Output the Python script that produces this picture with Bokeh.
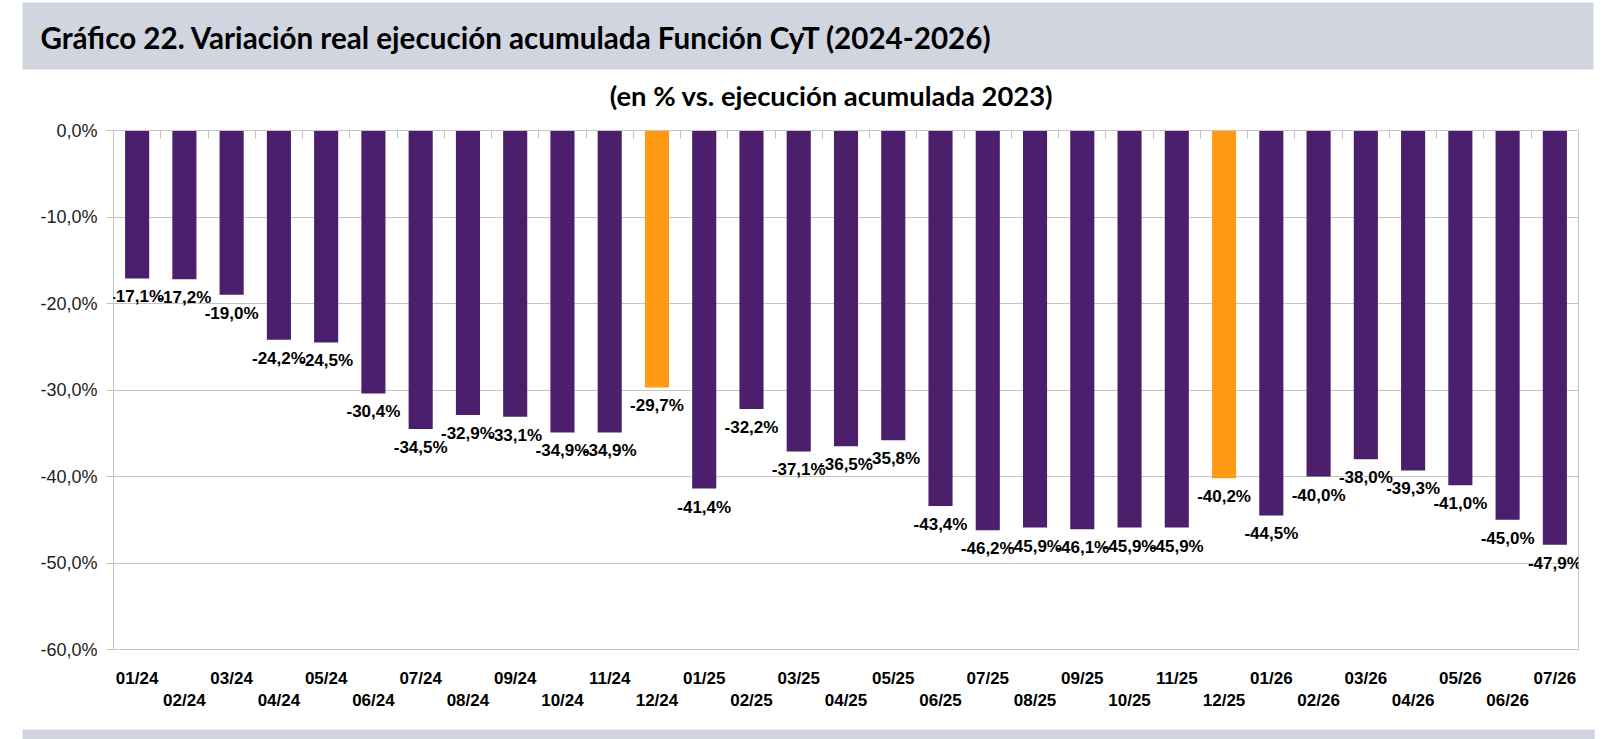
from bokeh.plotting import figure
from bokeh.models import (ColumnDataSource, FixedTicker, LinearAxis, LabelSet, Range1d, Title)
from bokeh.embed import file_html
from bokeh.resources import INLINE
from bokeh.core.properties import value

title_text = "Gráfico 22. Variación real ejecución acumulada Función CyT (2024-2026)"
subtitle_text = "(en % vs. ejecución acumulada 2023)"

categories = ["01/24", "02/24", "03/24", "04/24", "05/24", "06/24", "07/24", "08/24",
              "09/24", "10/24", "11/24", "12/24", "01/25", "02/25", "03/25", "04/25",
              "05/25", "06/25", "07/25", "08/25", "09/25", "10/25", "11/25", "12/25",
              "01/26", "02/26", "03/26", "04/26", "05/26", "06/26", "07/26"]
values = [-17.1, -17.2, -19.0, -24.2, -24.5, -30.4, -34.5, -32.9,
          -33.1, -34.9, -34.9, -29.7, -41.4, -32.2, -37.1, -36.5,
          -35.8, -43.4, -46.2, -45.9, -46.1, -45.9, -45.9, -40.2,
          -44.5, -40.0, -38.0, -39.3, -41.0, -45.0, -47.9]
highlight = ["12/24", "12/25"]
y_ticks = [0, -10, -20, -30, -40, -50, -60]
y_tick_labels = ["0,0%", "-10,0%", "-20,0%", "-30,0%", "-40,0%", "-50,0%", "-60,0%"]

PURPLE = "#4B1F6B"
ORANGE = "#FF9A12"
HEADER_BG = "#D0D5E0"
GRID = "#C4C4C4"
TITLE_FONT = "Lato"
AX_FONT = "Liberation Sans"

W = 1612
H = 739

n = len(categories)
idx = list(range(n))
colors = [ORANGE if c in highlight else PURPLE for c in categories]
labels = [f"{v:.1f}".replace(".", ",") + "%" for v in values]
src = ColumnDataSource(dict(x=idx, top=values, color=colors, label=labels))

p = figure(width=W, height=H, x_range=Range1d(-0.5, n - 0.5), y_range=Range1d(-60, 0),
           toolbar_location=None, output_backend="svg", x_axis_location=None,
           min_border_left=113, min_border_right=34, min_border_top=120, min_border_bottom=60)
p.background_fill_color = "white"
p.border_fill_color = "white"
p.outline_line_color = GRID

p.vbar(x="x", top="top", bottom=0, width=0.51, fill_color="color", line_color=None, source=src)

p.add_layout(LabelSet(x="x", y="top", text="label", source=src, text_align="center",
                      text_baseline="top", y_offset=-9, text_font=value(AX_FONT),
                      text_font_style="bold", text_font_size="17px", text_color="#000000"))

# y axis
ya = p.yaxis[0]
ya.ticker = FixedTicker(ticks=y_ticks)
ya.major_label_overrides = {t: l for t, l in zip(y_ticks, y_tick_labels)}
ya.major_label_text_font = AX_FONT
ya.major_label_text_font_size = "18px"
ya.major_label_text_color = "#222222"
ya.major_label_standoff = 9
ya.major_tick_out = 7
ya.major_tick_in = 0
ya.minor_tick_line_color = None
ya.major_tick_line_color = GRID
ya.axis_line_color = GRID

p.xgrid.visible = False
p.ygrid.grid_line_color = GRID
p.ygrid.ticker = FixedTicker(ticks=y_ticks)

# top axis with category-boundary ticks
xa_top = LinearAxis(ticker=FixedTicker(ticks=[i - 0.5 for i in range(n + 1)]),
                    major_tick_in=8, major_tick_out=0, major_label_text_font_size="0px",
                    major_label_text_alpha=0, axis_line_color=GRID, major_tick_line_color=GRID,
                    minor_tick_line_color=None, major_label_standoff=0)
p.add_layout(xa_top, "above")

# subtitle and header band (titles live outside the frame)
p.add_layout(Title(text=subtitle_text, align="center", standoff=15,
                   text_font=TITLE_FONT, text_font_style="bold", text_font_size="27.4px",
                   text_color="#000000", padding=dict(left=0, right=29, top=0, bottom=11)), "above")
p.add_layout(Title(text=title_text, align="left", offset=-91, standoff=0,
                   text_font=TITLE_FONT, text_font_style="bold", text_font_size="29.6px",
                   text_color="#000000", background_fill_color=HEADER_BG,
                   padding=dict(left=18, right=601, top=17, bottom=15)), "above")

# two staggered rows of category labels
for row, standoff in ((0, 19), (1, 0)):
    ticks = idx[row::2]
    ax = LinearAxis(ticker=FixedTicker(ticks=ticks),
                    major_label_overrides={i: categories[i] for i in ticks},
                    axis_line_color=None, major_tick_line_color=None, minor_tick_line_color=None,
                    major_tick_in=0, major_tick_out=0, major_label_standoff=standoff,
                    major_label_text_font=AX_FONT, major_label_text_font_style="bold",
                    major_label_text_font_size="17px", major_label_text_color="#000000")
    p.add_layout(ax, "below")

# spacer and bottom band
p.add_layout(Title(text=" ", standoff=12, text_font_size="1px", align="left"), "below")
p.add_layout(Title(text=" ", align="left", offset=-91, standoff=0, text_font_size="1px",
                   vertical_align="bottom", background_fill_color=HEADER_BG,
                   padding=dict(left=0, right=1572, top=4, bottom=5)), "below")

open("out.html", "w").write(file_html(p, INLINE))
